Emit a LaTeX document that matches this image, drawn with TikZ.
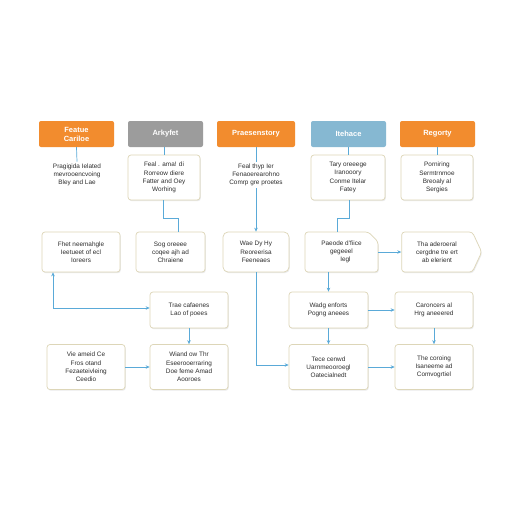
\documentclass[tikz,border=0pt]{standalone}
\usepackage{fontspec}
\setmainfont{Liberation Sans}
\usetikzlibrary{shapes.misc,shapes.symbols,shadows,arrows.meta}
\definecolor{hdorange}{HTML}{F28C2E}
\definecolor{hdgray}{HTML}{9C9C9C}
\definecolor{hdblue}{HTML}{86B8D2}
\definecolor{conn}{HTML}{5AAAD8}
\definecolor{boxline}{HTML}{DDD6B8}
\definecolor{txt}{HTML}{2E2E2E}
\begin{document}
\begin{tikzpicture}[x=1pt,y=-1pt,
  hdr/.style={rectangle, rounded corners=2pt, minimum height=26pt, text=white,
    font=\fontsize{7.5}{9}\selectfont\bfseries, align=center, inner sep=1pt},
  card/.style={rectangle, rounded corners=3pt, draw=boxline, line width=0.7pt, fill=white,
    drop shadow={opacity=0.16, shadow xshift=0.8pt, shadow yshift=-1.2pt},
    text=txt, font=\fontsize{6.4}{8.2}\selectfont, align=center, inner sep=2pt},
  plain/.style={text=txt, font=\fontsize{6.4}{8.2}\selectfont, align=center, inner sep=2pt},
  link/.style={draw=conn, line width=0.7pt},
  arr/.style={link, -{Stealth[length=4pt,width=3.5pt]}}
]
\useasboundingbox[fill=white] (0,0) rectangle (512,512);

% headers
\node[hdr, fill=hdorange, minimum width=75pt] (h1) at (76.5,134) {Featue\\Cariloe};
\node[hdr, fill=hdgray, minimum width=75pt] (h2) at (165.5,134) {Arkyfet};
\node[hdr, fill=hdorange, minimum width=78pt] (h3) at (256,134) {Praesenstory};
\node[hdr, fill=hdblue, minimum width=75pt] (h4) at (348.5,134) {Itehace};
\node[hdr, fill=hdorange, minimum width=75pt] (h5) at (437.5,134) {Regorty};

% row 1
\node[plain] (r1a) at (77,175) {Pragigida Ielated\\mevrooencvoing\\Bley and Lae};
\node[card, minimum width=72pt, minimum height=45pt] (r1b) at (164,177.5) {Feal . ama! di\\Rorreow diere\\Fatter and Oey\\Worhing};
\node[plain] (r1c) at (256,175) {Feal thyp Ier\\Fenaoerearohno\\Comrp gre proetes};
\node[card, minimum width=74pt, minimum height=45pt] (r1d) at (348,177.5) {Tary oreeege\\Iranooory\\Conme Itelar\\Fatey};
\node[card, minimum width=72pt, minimum height=45pt] (r1e) at (437,177.5) {Porniring\\Sermtrnmoe\\Breoaly al\\Sergies};

% row 2
\node[card, minimum width=78pt, minimum height=40pt] (a) at (81,252) {Fhet neemahgle\\Ieetueet of ecl\\Ioreers};
\node[card, minimum width=69pt, minimum height=40pt] (b) at (170.5,252) {Sog oreeee\\coqee ajh ad\\Chraiene};
\node[card, minimum width=66pt, minimum height=40pt, rounded corners=5pt] (c) at (256,252) {Wae Dy Hy\\Reoreerisa\\Feeneaes};
\node[card, chamfered rectangle, chamfered rectangle corners=north east, chamfered rectangle xsep=6pt,
  minimum width=73pt, minimum height=40pt] (d) at (341.5,252) {Paeode d'fiice\\gegeeel\\\hspace{8pt}Iegl};
\node[card, signal, signal to=east, signal pointer angle=130, minimum width=80pt, minimum height=40pt] (e) at (437,252) {Tha aderoeral\\cergdne tre ert\\ab elerient};

% row 3
\node[card, minimum width=78pt, minimum height=36pt] (f) at (189,310) {Trae cafaenes\\Lao of poees};
\node[card, minimum width=79pt, minimum height=36pt] (g) at (328.5,310) {Wadg enforts\\Pogng aneees};
\node[card, minimum width=78pt, minimum height=36pt] (hh) at (434,310) {Caroncers al\\Hrg aneeered};

% row 4
\node[card, minimum width=78pt, minimum height=45pt] (i) at (86,367) {Vie ameid Ce\\Fros otand\\Fezaeteivleing\\Ceedio};
\node[card, minimum width=78pt, minimum height=45pt] (j) at (189,367) {Wiand ow Thr\\Eseerooerraring\\Doe feme Amad\\Aooroes};
\node[card, minimum width=79pt, minimum height=45pt] (k) at (328.5,367) {Tece cenwd\\Uarnmeooroegl\\Oatecialnedt};
\node[card, minimum width=78pt, minimum height=45pt] (l) at (434,367) {The coroing\\Isaneeme ad\\Comvogrtiel};

% header to row 1
\draw[link] (h1.south) -- (r1a.north);
\draw[link] (h2.south -| r1b.north) -- (r1b.north);
\draw[link] (h3.south) -- (r1c.north);
\draw[link] (h4.south -| r1d.north) -- (r1d.north);
\draw[link] (h5.south -| r1e.north) -- (r1e.north);

% row 1 to row 2
\coordinate (kb) at (163,218);
\draw[link] (r1b.south -| kb) -- (kb) -| ([xshift=8pt]b.north);
\draw[arr] (r1c.south -| c.north) -- (c.north);
\coordinate (kd) at (349,218);
\draw[link] (r1d.south -| kd) -- (kd) -| ([xshift=-4.5pt]d.north);
\draw[arr] (d.east) -- (e.west);

% row 2 to row 3 / 4
\coordinate (ka) at (53,308);
\draw[arr] (ka) -- (a.south -| ka);
\draw[arr] (ka) -- (f.west |- ka);
\coordinate (kc) at (256,365);
\draw[arr] (c.south) -- (kc) -- (k.west |- kc);
\draw[arr] (d.south -| g.north) -- (g.north);
\draw[arr] (g.east) -- (hh.west);

% row 3 to row 4
\draw[arr] (f.south) -- (j.north);
\draw[arr] (g.south) -- (k.north);
\draw[arr] (hh.south) -- (l.north);
\draw[arr] (i.east) -- (j.west);
\draw[arr] (k.east) -- (l.west);
\end{tikzpicture}
\end{document}
